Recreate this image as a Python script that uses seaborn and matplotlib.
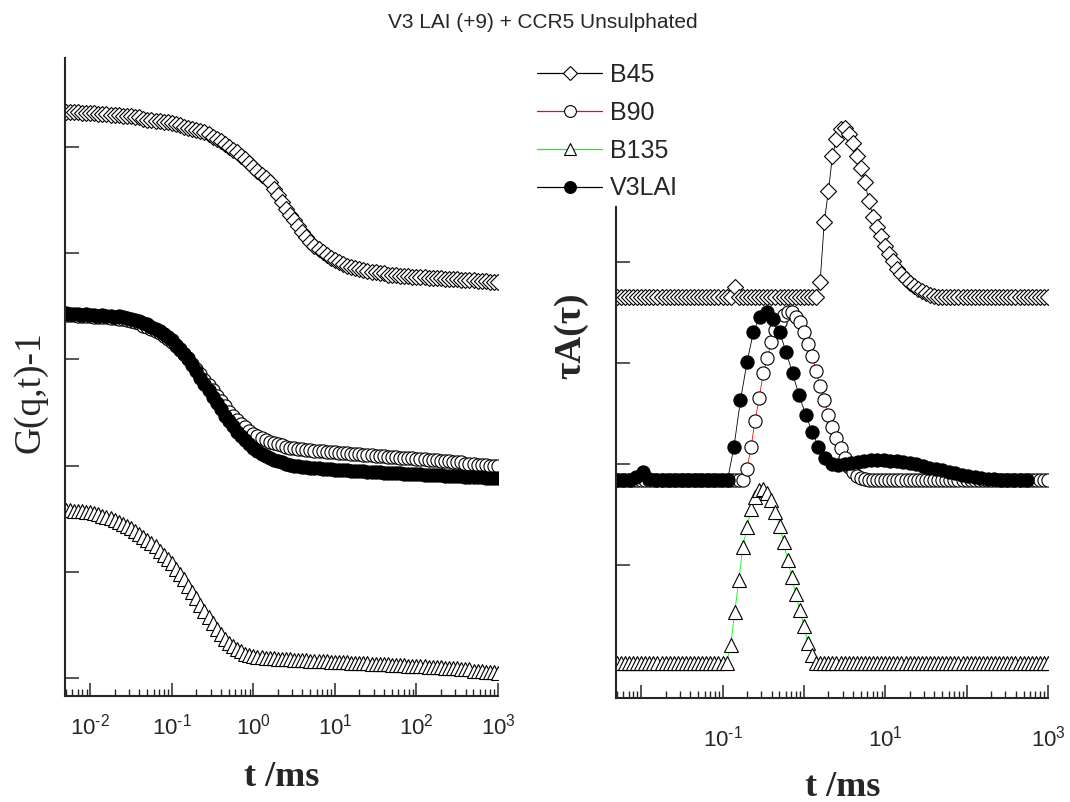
import matplotlib
matplotlib.use("Agg")
import matplotlib.pyplot as plt
from matplotlib.lines import Line2D
from matplotlib.ticker import LogLocator, FuncFormatter, NullFormatter
import numpy as np
import seaborn as sns

# lag / decay time grid (ms)
T_MS = [
    0.00501, 0.00562, 0.00631, 0.00708, 0.00794, 0.00891, 0.0100, 0.0112, 0.0126, 0.0141,
    0.0158, 0.0178, 0.0200, 0.0224, 0.0251, 0.0282, 0.0316, 0.0355, 0.0398, 0.0447,
    0.0501, 0.0562, 0.0631, 0.0708, 0.0794, 0.0891, 0.100, 0.112, 0.126, 0.141,
    0.158, 0.178, 0.200, 0.224, 0.251, 0.282, 0.316, 0.355, 0.398, 0.447,
    0.501, 0.562, 0.631, 0.708, 0.794, 0.891, 1.00, 1.12, 1.26, 1.41,
    1.58, 1.78, 2.00, 2.24, 2.51, 2.82, 3.16, 3.55, 3.98, 4.47,
    5.01, 5.62, 6.31, 7.08, 7.94, 8.91, 10.0, 11.2, 12.6, 14.1,
    15.8, 17.8, 20.0, 22.4, 25.1, 28.2, 31.6, 35.5, 39.8, 44.7,
    50.1, 56.2, 63.1, 70.8, 79.4, 89.1, 100, 112, 126, 141,
    158, 178, 200, 224, 251, 282, 316, 355, 398, 447,
    501, 562, 631, 708, 794, 891, 1000,
]
# coarser decay time grid used for the V3LAI distribution (ms)
T_V3LAI_MS = [
    0.00501, 0.00603, 0.00724, 0.00871, 0.0105, 0.0126, 0.0151, 0.0182, 0.0219, 0.0263,
    0.0316, 0.0380, 0.0457, 0.0550, 0.0661, 0.0794, 0.0955, 0.115, 0.138, 0.166,
    0.200, 0.240, 0.288, 0.347, 0.417, 0.501, 0.603, 0.724, 0.871, 1.05,
    1.26, 1.51, 1.82, 2.19, 2.63, 3.16, 3.80, 4.57, 5.50, 6.61,
    7.94, 9.55, 11.5, 13.8, 16.6, 20.0, 24.0, 28.8, 34.7, 41.7,
    50.1, 60.3, 72.4, 87.1, 105, 126, 151, 182, 219, 263,
    316, 380, 457, 550,
]

# left panel: correlation functions (offset, arbitrary units)
G_B45 = [
    5.33, 5.33, 5.33, 5.33, 5.32, 5.32, 5.32, 5.32, 5.31, 5.31,
    5.31, 5.30, 5.30, 5.30, 5.29, 5.29, 5.29, 5.28, 5.28, 5.27,
    5.26, 5.26, 5.25, 5.25, 5.24, 5.24, 5.23, 5.22, 5.21, 5.19,
    5.18, 5.17, 5.16, 5.15, 5.14, 5.12, 5.10, 5.08, 5.06, 5.03,
    5.00, 4.97, 4.95, 4.92, 4.89, 4.85, 4.81, 4.78, 4.74, 4.71,
    4.67, 4.61, 4.55, 4.48, 4.42, 4.36, 4.31, 4.26, 4.20, 4.15,
    4.11, 4.07, 4.04, 4.01, 3.98, 3.96, 3.94, 3.92, 3.90, 3.88,
    3.87, 3.86, 3.85, 3.84, 3.83, 3.82, 3.82, 3.81, 3.81, 3.80,
    3.80, 3.80, 3.79, 3.79, 3.79, 3.78, 3.78, 3.78, 3.78, 3.77,
    3.77, 3.77, 3.77, 3.76, 3.76, 3.76, 3.76, 3.75, 3.75, 3.75,
    3.75, 3.74, 3.74, 3.74, 3.73, 3.73, 3.73,
]
G_B90 = [
    3.42, 3.42, 3.42, 3.41, 3.41, 3.41, 3.41, 3.40, 3.40, 3.40,
    3.40, 3.39, 3.39, 3.38, 3.38, 3.37, 3.36, 3.35, 3.34, 3.32,
    3.31, 3.29, 3.27, 3.25, 3.22, 3.19, 3.16, 3.13, 3.09, 3.05,
    3.01, 2.96, 2.91, 2.86, 2.81, 2.76, 2.71, 2.66, 2.61, 2.56,
    2.51, 2.47, 2.43, 2.39, 2.36, 2.33, 2.30, 2.28, 2.26, 2.24,
    2.22, 2.21, 2.20, 2.19, 2.18, 2.17, 2.17, 2.16, 2.16, 2.15,
    2.15, 2.14, 2.14, 2.14, 2.13, 2.13, 2.13, 2.12, 2.12, 2.12,
    2.11, 2.11, 2.11, 2.10, 2.10, 2.10, 2.09, 2.09, 2.09, 2.08,
    2.08, 2.08, 2.07, 2.07, 2.07, 2.07, 2.06, 2.06, 2.06, 2.05,
    2.05, 2.05, 2.04, 2.04, 2.04, 2.03, 2.03, 2.03, 2.02, 2.02,
    2.02, 2.01, 2.01, 2.01, 2.00, 2.00, 2.00,
]
G_B135 = [
    1.58, 1.58, 1.57, 1.57, 1.57, 1.56, 1.56, 1.55, 1.54, 1.53,
    1.52, 1.51, 1.49, 1.47, 1.45, 1.43, 1.41, 1.38, 1.36, 1.33,
    1.30, 1.27, 1.24, 1.20, 1.16, 1.12, 1.08, 1.03, 0.98, 0.93,
    0.87, 0.81, 0.75, 0.69, 0.63, 0.57, 0.52, 0.46, 0.41, 0.37,
    0.33, 0.30, 0.27, 0.25, 0.23, 0.22, 0.21, 0.20, 0.20, 0.19,
    0.19, 0.19, 0.18, 0.18, 0.18, 0.18, 0.17, 0.17, 0.17, 0.17,
    0.16, 0.16, 0.16, 0.16, 0.16, 0.15, 0.15, 0.15, 0.15, 0.15,
    0.14, 0.14, 0.14, 0.14, 0.14, 0.13, 0.13, 0.13, 0.13, 0.13,
    0.12, 0.12, 0.12, 0.12, 0.11, 0.11, 0.11, 0.11, 0.11, 0.10,
    0.10, 0.10, 0.10, 0.09, 0.09, 0.09, 0.09, 0.08, 0.08, 0.08,
    0.07, 0.07, 0.07, 0.06, 0.06, 0.06, 0.05,
]
G_V3LAI = [
    3.44, 3.43, 3.43, 3.43, 3.42, 3.43, 3.42, 3.42, 3.41, 3.42,
    3.41, 3.41, 3.40, 3.41, 3.40, 3.39, 3.38, 3.37, 3.36, 3.34,
    3.33, 3.31, 3.29, 3.27, 3.24, 3.21, 3.18, 3.14, 3.10, 3.05,
    3.00, 2.95, 2.89, 2.83, 2.77, 2.71, 2.65, 2.59, 2.53, 2.47,
    2.42, 2.37, 2.32, 2.28, 2.24, 2.20, 2.17, 2.14, 2.11, 2.09,
    2.07, 2.05, 2.04, 2.03, 2.02, 2.01, 2.00, 2.00, 1.99, 1.99,
    1.98, 1.98, 1.98, 1.97, 1.97, 1.97, 1.96, 1.96, 1.96, 1.96,
    1.95, 1.95, 1.95, 1.95, 1.94, 1.94, 1.94, 1.94, 1.93, 1.93,
    1.93, 1.93, 1.93, 1.92, 1.92, 1.92, 1.92, 1.92, 1.91, 1.91,
    1.91, 1.91, 1.91, 1.90, 1.90, 1.90, 1.90, 1.90, 1.89, 1.89,
    1.89, 1.89, 1.89, 1.88, 1.88, 1.88, 1.88,
]

# right panel: relaxation time distributions tau*A(tau) (offset)
A_B45 = [
    3.65, 3.65, 3.65, 3.65, 3.65, 3.65, 3.65, 3.65, 3.65, 3.65,
    3.65, 3.65, 3.65, 3.65, 3.65, 3.65, 3.65, 3.65, 3.65, 3.65,
    3.65, 3.65, 3.65, 3.65, 3.65, 3.65, 3.65, 3.65, 3.65, 3.75,
    3.65, 3.65, 3.65, 3.65, 3.65, 3.65, 3.65, 3.65, 3.65, 3.65,
    3.65, 3.65, 3.65, 3.65, 3.65, 3.65, 3.65, 3.65, 3.65, 3.65,
    3.80, 4.40, 4.70, 5.05, 5.22, 5.32, 5.33, 5.27, 5.18, 5.05,
    4.93, 4.79, 4.60, 4.45, 4.35, 4.26, 4.16, 4.08, 4.01, 3.93,
    3.88, 3.83, 3.79, 3.76, 3.73, 3.71, 3.69, 3.67, 3.66, 3.65,
    3.65, 3.65, 3.65, 3.65, 3.65, 3.65, 3.65, 3.65, 3.65, 3.65,
    3.65, 3.65, 3.65, 3.65, 3.65, 3.65, 3.65, 3.65, 3.65, 3.65,
    3.65, 3.65, 3.65, 3.65, 3.65, 3.65, 3.65,
]
A_B90 = [
    1.84, 1.84, 1.84, 1.84, 1.84, 1.84, 1.84, 1.84, 1.84, 1.84,
    1.84, 1.84, 1.84, 1.84, 1.84, 1.84, 1.84, 1.84, 1.84, 1.84,
    1.84, 1.84, 1.84, 1.84, 1.84, 1.84, 1.84, 1.84, 1.84, 1.84,
    1.84, 1.84, 1.95, 2.17, 2.43, 2.65, 2.90, 3.05, 3.21, 3.33,
    3.41, 3.48, 3.50, 3.50, 3.46, 3.41, 3.31, 3.19, 3.07, 2.92,
    2.77, 2.63, 2.49, 2.37, 2.26, 2.16, 2.06, 1.97, 1.92, 1.88,
    1.86, 1.85, 1.84, 1.84, 1.84, 1.84, 1.84, 1.84, 1.84, 1.84,
    1.84, 1.84, 1.84, 1.84, 1.84, 1.84, 1.84, 1.84, 1.84, 1.84,
    1.84, 1.84, 1.84, 1.84, 1.84, 1.84, 1.84, 1.84, 1.84, 1.84,
    1.84, 1.84, 1.84, 1.84, 1.84, 1.84, 1.84, 1.84, 1.84, 1.84,
    1.84, 1.84, 1.84, 1.84, 1.84, 1.84, 1.84,
]
A_B135 = [
    0.03, 0.03, 0.03, 0.03, 0.03, 0.03, 0.03, 0.03, 0.03, 0.03,
    0.03, 0.03, 0.03, 0.03, 0.03, 0.03, 0.03, 0.03, 0.03, 0.03,
    0.03, 0.03, 0.03, 0.03, 0.03, 0.03, 0.03, 0.03, 0.21, 0.53,
    0.85, 1.18, 1.38, 1.55, 1.67, 1.74, 1.75, 1.71, 1.64, 1.52,
    1.39, 1.23, 1.05, 0.88, 0.71, 0.55, 0.40, 0.23, 0.11, 0.03,
    0.03, 0.03, 0.03, 0.03, 0.03, 0.03, 0.03, 0.03, 0.03, 0.03,
    0.03, 0.03, 0.03, 0.03, 0.03, 0.03, 0.03, 0.03, 0.03, 0.03,
    0.03, 0.03, 0.03, 0.03, 0.03, 0.03, 0.03, 0.03, 0.03, 0.03,
    0.03, 0.03, 0.03, 0.03, 0.03, 0.03, 0.03, 0.03, 0.03, 0.03,
    0.03, 0.03, 0.03, 0.03, 0.03, 0.03, 0.03, 0.03, 0.03, 0.03,
    0.03, 0.03, 0.03, 0.03, 0.03, 0.03, 0.03,
]
A_V3LAI = [
    1.84, 1.84, 1.84, 1.87, 1.92, 1.85, 1.84, 1.84, 1.84, 1.84,
    1.84, 1.84, 1.84, 1.84, 1.84, 1.84, 1.84, 1.84, 2.17, 2.63,
    3.01, 3.31, 3.46, 3.50, 3.44, 3.31, 3.11, 2.90, 2.68, 2.49,
    2.32, 2.17, 2.06, 2.00, 1.99, 2.00, 2.01, 2.02, 2.03, 2.04,
    2.04, 2.04, 2.03, 2.03, 2.02, 2.01, 2.00, 1.98, 1.96, 1.95,
    1.94, 1.92, 1.91, 1.89, 1.88, 1.87, 1.86, 1.85, 1.85, 1.84,
    1.84, 1.84, 1.84, 1.84,
]

LABELS = ["B45", "B90", "B135", "V3LAI"]
MARKERS = ["D", "o", "^", "o"]
MSIZES = [8.0, 9.5, 10.0, 9.5]
FACES = ["white", "white", "white", "black"]
LINE_COLORS = ["black", "#ff0000", "#00ff00", "black"]

sns.set_style("ticks")
plt.rcParams["font.family"] = ["Liberation Sans", "DejaVu Sans"]
plt.rcParams["mathtext.fontset"] = "custom"
plt.rcParams["mathtext.rm"] = "Liberation Sans"
plt.rcParams["axes.unicode_minus"] = False

W, H = 1070, 802
fig = plt.figure(figsize=(W / 100, H / 100), dpi=100)
ax1 = fig.add_axes([65 / W, 1 - 696 / H, 433 / W, 638 / H])
ax2 = fig.add_axes([616 / W, 1 - 698 / H, 432 / W, 578 / H])


def draw(ax, t, y, i):
    sns.lineplot(x=t, y=y, ax=ax, color=LINE_COLORS[i], lw=0.6,
                 marker=MARKERS[i], ms=MSIZES[i], mfc=FACES[i], mec="black",
                 mew=0.8, legend=False, sort=False, estimator=None)


for i, y in enumerate([G_B45, G_B90, G_B135, G_V3LAI]):
    draw(ax1, T_MS, y, i)
for i, y in enumerate([A_B45, A_B90, A_B135]):
    draw(ax2, T_MS, y, i)
draw(ax2, T_V3LAI_MS, A_V3LAI, 3)


def dec_fmt(odd_only):
    def f(x, pos):
        e = int(round(np.log10(x)))
        if odd_only and e % 2 == 0:
            return ""
        sign = "\u2010" if e < 0 else ""
        return r"$\mathregular{10^{%s%d}}$" % (sign, abs(e))
    return FuncFormatter(f)


for ax, odd, pad in [(ax1, False, 13), (ax2, True, 20)]:
    ax.set_xscale("log")
    ax.set_xlim(4.9e-3, 1e3)
    ax.xaxis.set_major_locator(LogLocator(base=10, numticks=20))
    ax.xaxis.set_minor_locator(LogLocator(base=10, subs=range(2, 10), numticks=20))
    ax.xaxis.set_major_formatter(dec_fmt(odd))
    ax.xaxis.set_minor_formatter(NullFormatter())
    ax.tick_params(axis="x", which="major", direction="in", length=9.5, width=1.1,
                   labelsize=16, pad=pad)
    ax.tick_params(axis="x", which="minor", direction="in", length=5, width=1.0)
    ax.tick_params(axis="y", which="major", direction="in", length=10, width=1.1,
                   labelleft=False)
    ax.tick_params(axis="y", which="minor", left=False)
    for s in ["left", "bottom"]:
        ax.spines[s].set_linewidth(1.5)
    sns.despine(ax=ax)
    ax.set_xlabel("")
    ax.set_ylabel("")

ax1.set_ylim(-0.17, 5.84)
ax1.set_yticks(range(6))
ax2.set_ylim(-0.317, 5.406)
ax2.set_yticks(range(5))
ax2.spines["left"].set_bounds(-0.317, 4.545)

serif = ["Liberation Serif", "DejaVu Serif"]
ax1.set_ylabel("G(q,t)-1", fontfamily=serif, fontsize=27, va="center")
ax1.yaxis.set_label_coords(-0.08, 0.476)
ax2.set_ylabel("τA(τ)", fontfamily=serif, fontsize=27, fontweight="bold", va="center")
ax2.yaxis.set_label_coords(-0.104, 0.626)
ax1.set_xlabel("t /ms", fontfamily=serif, fontsize=26, fontweight="bold", va="center")
ax1.xaxis.set_label_coords(0.5, -0.127)
ax2.set_xlabel("t /ms", fontfamily=serif, fontsize=26, fontweight="bold", va="center")
ax2.xaxis.set_label_coords(0.525, -0.154)

fig.text(543 / W, 1 - 22 / H, "V3 LAI (+9) + CCR5 Unsulphated", ha="center",
         va="center", fontsize=15)

handles = [Line2D([], [], color=LINE_COLORS[i], lw=0.9, marker=MARKERS[i],
                  ms=MSIZES[i] - 1, mfc=FACES[i], mec="black", mew=0.8)
           for i in range(4)]
ax2.legend(handles, LABELS, loc="upper left", bbox_to_anchor=(537 / W, 1 - 63 / H),
           bbox_transform=fig.transFigure, frameon=False, fontsize=18,
           handlelength=2.6, handletextpad=0.3, labelspacing=0.55,
           borderpad=0, borderaxespad=0)

fig.savefig("out.png", dpi=100)
